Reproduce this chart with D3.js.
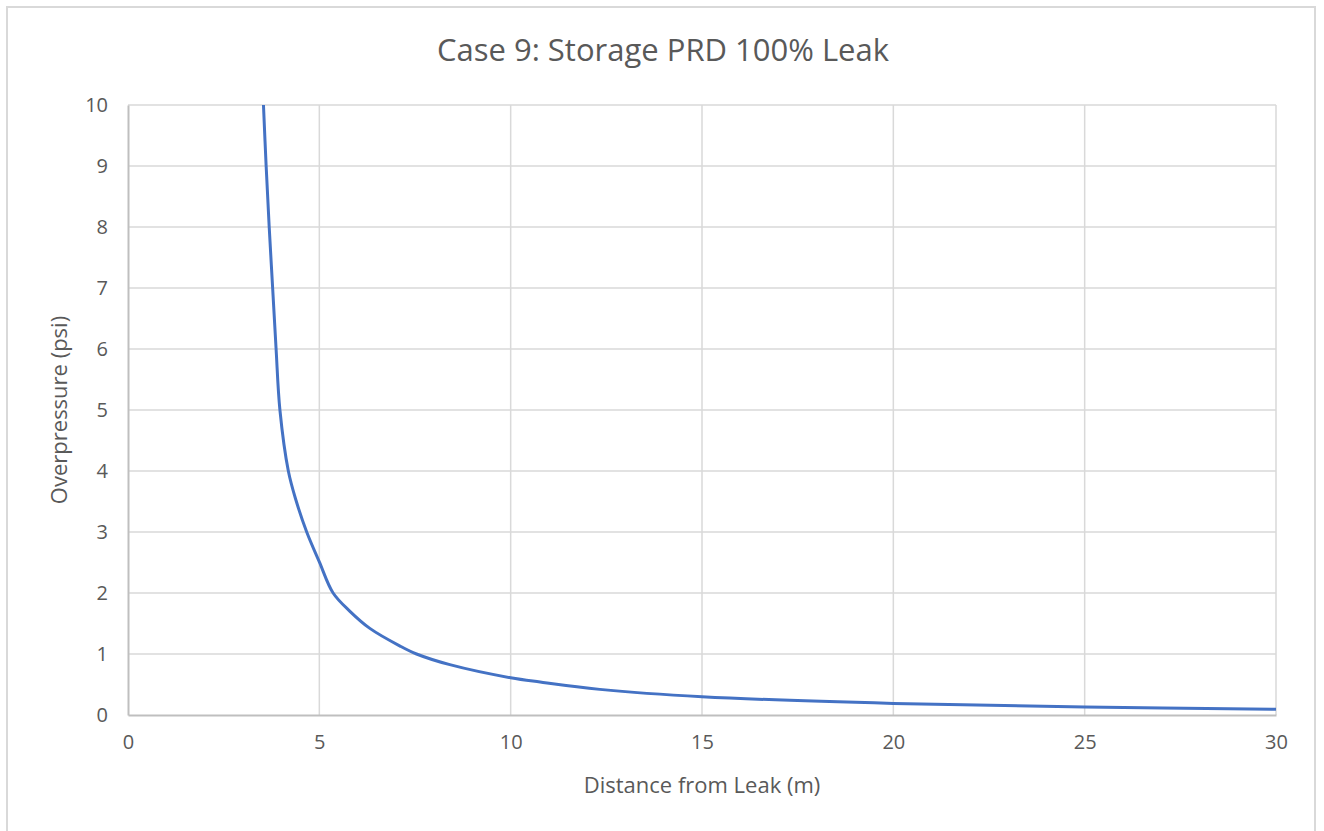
<!DOCTYPE html>
<html lang="en">
<head>
<meta charset="utf-8">
<title>Case 9: Storage PRD 100% Leak</title>
<script src="https://d3js.org/d3.v7.min.js"></script>
<style>
  body { margin: 0; background: #fff; font-family: "Open Sans", "Noto Sans", sans-serif; }
  .grid line { stroke: #d9d9d9; stroke-width: 1.5; }
  .tick text { fill: #595959; font-size: 20px; font-family: "Open Sans", "Noto Sans", sans-serif; }
</style>
</head>
<body>
<svg id="chart" width="1324" height="831"></svg>
<script>
// ---------- data ----------
var title = "Case 9: Storage PRD 100% Leak";
var xLabel = "Distance from Leak (m)";
var yLabel = "Overpressure (psi)";

var distance = [3.54, 3.61, 3.69, 3.78, 3.87, 3.97, 4.19, 4.39, 4.67, 5.0, 5.36, 5.8, 6.32, 7.11, 7.54, 8.41, 10, 10.77, 12.33, 15, 20, 25, 30];
var overpressure = [10, 9, 8, 7, 6, 5, 4, 3.52, 3, 2.51, 2, 1.70, 1.42, 1.13, 1, 0.825, 0.61, 0.54, 0.42, 0.30, 0.19, 0.13, 0.095];

var xTicks = [0, 5, 10, 15, 20, 25, 30];
var yTicks = [0, 1, 2, 3, 4, 5, 6, 7, 8, 9, 10];

var pts = distance.map(function (d, i) { return {x: d, y: overpressure[i]}; });

// ---------- layout ----------
var svg = d3.select("#chart");
var mLeft = 128, mRight = 1276, mTop = 105, mBottom = 715;

var x = d3.scaleLinear().domain([0, 30]).range([mLeft, mRight]);
var y = d3.scaleLinear().domain([0, 10]).range([mBottom, mTop]);

// outer chart border
svg.append("path")
  .attr("d", "M7,832 L7,7 L1315,7 L1315,832")
  .attr("fill", "none")
  .attr("stroke", "#d9d9d9")
  .attr("stroke-width", 2);

// title
svg.append("text")
  .attr("x", 663).attr("y", 61)
  .attr("text-anchor", "middle")
  .attr("fill", "#595959")
  .style("font-size", "31px")
  .text(title);

// gridlines
var grid = svg.append("g").attr("class", "grid");
grid.selectAll(".h").data(yTicks.filter(function (t) { return t > 0; })).enter().append("line")
  .attr("x1", mLeft).attr("x2", mRight)
  .attr("y1", function (d) { return y(d); }).attr("y2", function (d) { return y(d); });
grid.selectAll(".v").data(xTicks.filter(function (t) { return t > 0; })).enter().append("line")
  .attr("y1", mTop).attr("y2", mBottom)
  .attr("x1", function (d) { return x(d); }).attr("x2", function (d) { return x(d); });

// axes
var xAxis = d3.axisBottom(x).tickValues(xTicks).tickSize(0).tickPadding(20);
var yAxis = d3.axisLeft(y).tickValues(yTicks).tickSize(0).tickPadding(20);

var gx = svg.append("g").attr("transform", "translate(0," + mBottom + ")").call(xAxis);
gx.select(".domain").attr("stroke", "#bfbfbf").attr("stroke-width", 2);
gx.selectAll(".tick text").attr("dy", "0.71em");

var gy = svg.append("g").attr("transform", "translate(" + mLeft + ",0)").call(yAxis);
gy.select(".domain").attr("stroke", "#bfbfbf").attr("stroke-width", 2);

// axis titles
svg.append("text")
  .attr("x", (mLeft + mRight) / 2).attr("y", 793)
  .attr("text-anchor", "middle")
  .attr("fill", "#595959")
  .style("font-size", "22px")
  .text(xLabel);

svg.append("text")
  .attr("transform", "translate(67," + ((mTop + mBottom) / 2) + ") rotate(-90)")
  .attr("text-anchor", "middle")
  .attr("fill", "#595959")
  .style("font-size", "22px")
  .text(yLabel);

// the curve
var line = d3.line()
  .x(function (d) { return x(d.x); })
  .y(function (d) { return y(d.y); })
  .curve(d3.curveCatmullRom.alpha(0.5));

svg.append("path")
  .datum(pts)
  .attr("d", line)
  .attr("fill", "none")
  .attr("stroke", "#4472c4")
  .attr("stroke-width", 3)
  .attr("stroke-linejoin", "round");
</script>
</body>
</html>
